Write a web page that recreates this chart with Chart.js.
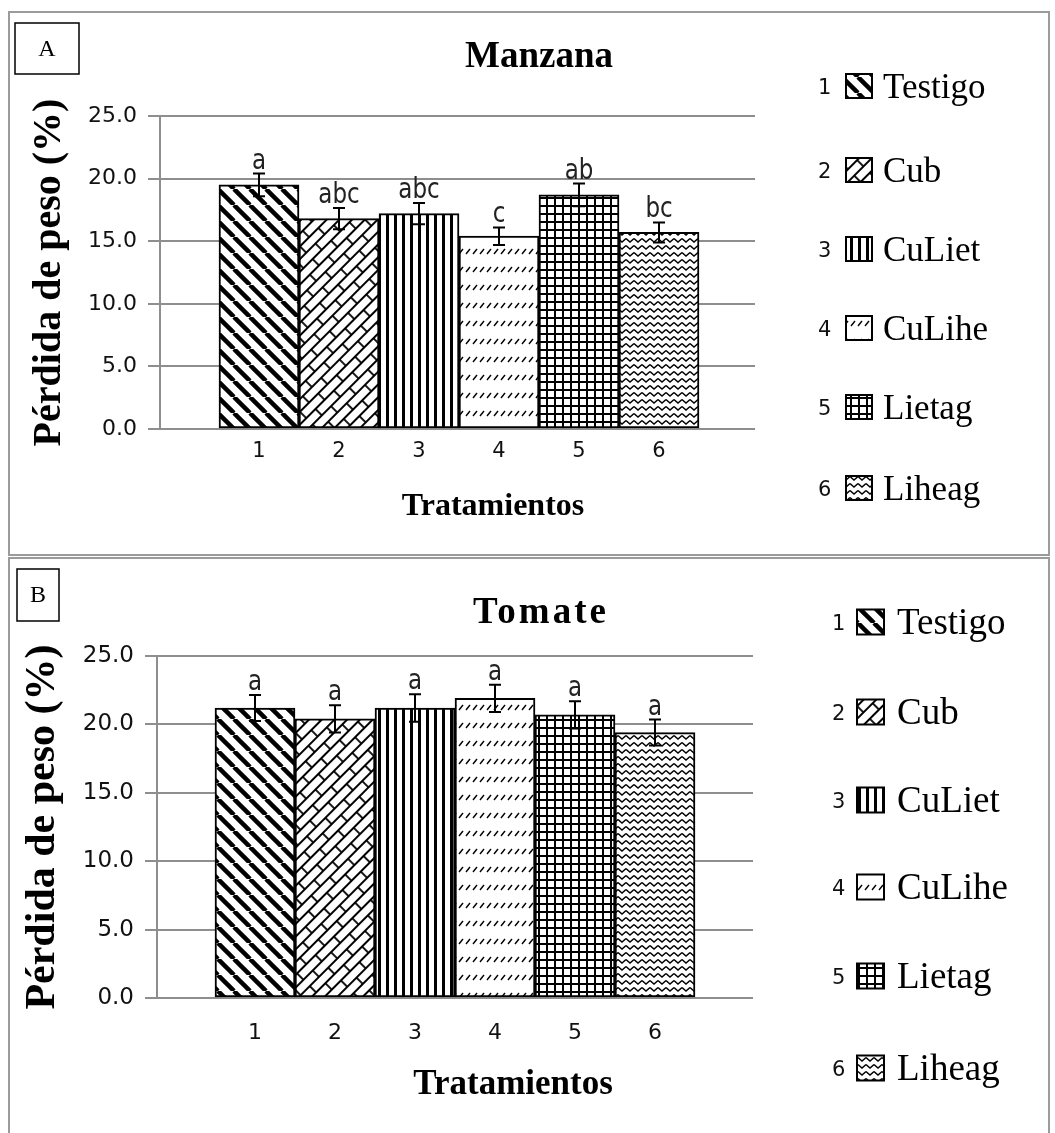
<!DOCTYPE html>
<html>
<head>
<meta charset="utf-8">
<script src="https://cdn.jsdelivr.net/npm/chart.js@4.4.1/dist/chart.umd.min.js"></script>
<style>
  body { margin: 0; background: #fff; width: 1055px; height: 1133px; overflow: hidden; position: relative; }
  .panel { position: absolute; left: 8px; border: 2px solid #9b9b9b; background: #fff; }
  #boxA { top: 11px; width: 1038px; height: 541px; }
  #boxB { top: 557px; width: 1038px; height: 580px; border-bottom: none; }
  canvas { display: block; }
</style>
</head>
<body>
<div class="panel" id="boxA"><canvas id="chartA" width="1038" height="541"></canvas></div>
<div class="panel" id="boxB"><canvas id="chartB" width="1038" height="574"></canvas></div>

<script>
// Data
const treatments = ["1", "2", "3", "4", "5", "6"];
const treatmentNames = ["Testigo", "Cub", "CuLiet", "CuLihe", "Lietag", "Liheag"];

const manzanaLoss = [19.5, 16.8, 17.2, 15.4, 18.7, 15.7];
const manzanaErr = [0.9, 0.85, 0.85, 0.7, 0.9, 0.8];
const manzanaLetters = ["a", "abc", "abc", "c", "ab", "bc"];

const tomateLoss = [21.2, 20.4, 21.2, 21.9, 20.7, 19.4];
const tomateErr = [0.95, 1.0, 1.0, 1.0, 1.0, 0.95];
const tomateLetters = ["a", "a", "a", "a", "a", "a"];

const yMin = 0;
const yMax = 25;
const yStep = 5;

// Small tile canvas for a fill pattern
function makeTile(w, h, draw) {
    let c = document.createElement("canvas");
    c.width = w;
    c.height = h;
    let g = c.getContext("2d");
    g.fillStyle = "#fff";
    g.fillRect(0, 0, w, h);
    g.strokeStyle = "#000";
    g.fillStyle = "#000";
    draw(g, w, h);
    return c;
}

// Black & white hatch patterns, one per treatment
function makePatterns(ctx) {
    // 1: wide downward diagonal
    let p1 = ctx.createPattern(makeTile(16, 16, (g, w, h) => {
        g.lineWidth = 4.5;
        for (let k = -w; k <= w; k += w) {
            g.beginPath();
            g.moveTo(k, 0);
            g.lineTo(k + w, h);
            g.stroke();
        }
    }), "repeat");

    // 2: diagonal brick
    let p2 = ctx.createPattern(makeTile(26, 18, (g, w, h) => {
        g.lineWidth = 1.8;
        g.beginPath();
        g.moveTo(0, 1); g.lineTo(w, 1);
        g.moveTo(0, h / 2 + 1); g.lineTo(w, h / 2 + 1);
        g.moveTo(1, 0); g.lineTo(1, h / 2);
        g.moveTo(w / 2 + 1, h / 2); g.lineTo(w / 2 + 1, h);
        g.stroke();
    }), "repeat");
    p2.setTransform(new DOMMatrix().rotate(-45));

    // 3: vertical lines
    let p3 = ctx.createPattern(makeTile(8, 8, (g, w, h) => {
        g.fillRect(0, 0, 3, h);
    }), "repeat");

    // 4: dashed upward diagonal
    let p4 = ctx.createPattern(makeTile(7, 18, (g, w, h) => {
        g.lineWidth = 1.4;
        g.beginPath();
        g.moveTo(1, 7); g.lineTo(5, 2);
        g.stroke();
    }), "repeat");

    // 5: small grid
    let p5 = ctx.createPattern(makeTile(8, 8, (g, w, h) => {
        g.fillRect(0, 0, w, 2);
        g.fillRect(0, 0, 2, h);
    }), "repeat");

    // 6: zig zag
    let p6 = ctx.createPattern(makeTile(8, 7, (g, w, h) => {
        g.lineWidth = 1.4;
        g.beginPath();
        g.moveTo(0, 1.5); g.lineTo(4, 5); g.lineTo(8, 1.5);
        g.stroke();
    }), "repeat");

    return [p1, p2, p3, p4, p5, p6];
}

// Error bars, letters, titles, letter box and the side legend
function makeDecor(panel, fills) {
    return {
        id: "panelDecor",
        afterDatasetsDraw(chart) {
            let ctx = chart.ctx;
            let y = chart.scales.y;
            let meta = chart.getDatasetMeta(0);
            ctx.save();
            ctx.strokeStyle = "#000";
            ctx.lineWidth = 2;
            meta.data.forEach((bar, i) => {
                let top = y.getPixelForValue(panel.values[i] + panel.errors[i]);
                let bot = y.getPixelForValue(panel.values[i] - panel.errors[i]);
                ctx.beginPath();
                ctx.moveTo(bar.x, top); ctx.lineTo(bar.x, bot);
                ctx.moveTo(bar.x - 6, top); ctx.lineTo(bar.x + 6, top);
                ctx.moveTo(bar.x - 6, bot); ctx.lineTo(bar.x + 6, bot);
                ctx.stroke();

                // significance letters (drawn a bit taller, like the source)
                ctx.save();
                ctx.translate(bar.x, top - 5);
                ctx.scale(1, 1.25);
                ctx.font = '23px "DejaVu Sans"';
                ctx.textAlign = "center";
                ctx.textBaseline = "alphabetic";
                ctx.fillStyle = "#222";
                ctx.fillText(panel.letters[i], 0, 0);
                ctx.restore();
            });
            ctx.restore();
        },
        afterDraw(chart) {
            let ctx = chart.ctx;
            ctx.save();
            ctx.fillStyle = "#000";
            ctx.strokeStyle = "#000";
            ctx.textAlign = "center";
            ctx.textBaseline = "alphabetic";

            // chart title
            ctx.font = "bold " + panel.titleSize + 'px "Liberation Serif"';
            ctx.letterSpacing = panel.titleSpacing;
            ctx.fillText(panel.title, panel.titleX, panel.titleY);
            ctx.letterSpacing = "0px";

            // x axis title
            ctx.font = "bold " + panel.xTitleSize + 'px "Liberation Serif"';
            ctx.fillText("Tratamientos", panel.xTitleX, panel.xTitleY);

            // panel letter box
            ctx.lineWidth = 1.5;
            ctx.strokeRect(panel.box[0], panel.box[1], panel.box[2], panel.box[3]);
            ctx.font = '24px "Liberation Serif"';
            ctx.textBaseline = "middle";
            ctx.fillText(panel.letter, panel.box[0] + panel.box[2] / 2, panel.box[1] + panel.box[3] / 2 + 1);

            // legend
            let lg = panel.legend;
            treatmentNames.forEach((name, i) => {
                let ry = lg.rows[i];
                ctx.textAlign = "left";
                ctx.textBaseline = "alphabetic";
                ctx.font = '21px "DejaVu Sans"';
                ctx.fillStyle = "#111";
                ctx.fillText(treatments[i], lg.numX, ry + 8);

                ctx.fillStyle = fills[i];
                ctx.fillRect(lg.swX, ry - lg.swH / 2, lg.swW, lg.swH);
                ctx.lineWidth = 2;
                ctx.strokeRect(lg.swX, ry - lg.swH / 2, lg.swW, lg.swH);

                ctx.fillStyle = "#000";
                ctx.font = lg.size + 'px "Liberation Serif"';
                ctx.fillText(name, lg.textX, ry + 12);
            });
            ctx.restore();
        }
    };
}

function buildChart(canvasId, panel) {
    let ctx = document.getElementById(canvasId).getContext("2d");
    let fills = makePatterns(ctx);

    return new Chart(ctx, {
        type: "bar",
        data: {
            datasets: [{
                data: panel.values.map((v, i) => ({ x: i + 1, y: v })),
                backgroundColor: fills,
                borderColor: "#000",
                borderWidth: 2,
                borderSkipped: false,
                barPercentage: 1,
                categoryPercentage: 1
            }]
        },
        options: {
            responsive: false,
            animation: false,
            layout: {
                padding: { left: 0, top: panel.areaTop, right: panel.padRight, bottom: 0 }
            },
            plugins: {
                legend: { display: false },
                tooltip: { enabled: false },
                title: { display: false }
            },
            scales: {
                x: {
                    type: "linear",
                    min: panel.xMin,
                    max: panel.xMax,
                    offset: false,
                    grid: { display: false, drawTicks: false },
                    border: { display: false },
                    afterBuildTicks: axis => {
                        axis.ticks = treatments.map((t, i) => ({ value: i + 1 }));
                    },
                    afterFit: axis => { axis.height = panel.xAxisHeight; },
                    ticks: {
                        autoSkip: false,
                        maxRotation: 0,
                        padding: panel.xTickPad,
                        color: "#111",
                        font: { family: "DejaVu Sans", size: panel.xTickSize },
                        callback: v => treatments[v - 1]
                    }
                },
                y: {
                    min: yMin,
                    max: yMax,
                    ticks: {
                        stepSize: yStep,
                        padding: 11,
                        color: "#111",
                        font: { family: "DejaVu Sans", size: panel.tickSize },
                        callback: v => v.toFixed(1)
                    },
                    grid: { color: "#8e8e8e", lineWidth: 2, tickLength: 12 },
                    border: { color: "#8e8e8e", width: 2 },
                    title: {
                        display: true,
                        text: "Pérdida de peso (%)",
                        color: "#000",
                        font: { family: "Liberation Serif", size: panel.yTitleSize, weight: "bold", lineHeight: 1 },
                        padding: { top: panel.yTitlePad, bottom: 0 }
                    },
                    afterFit: axis => { axis.width = panel.areaLeft; }
                }
            }
        },
        plugins: [makeDecor(panel, fills)]
    });
}

buildChart("chartA", {
    values: manzanaLoss,
    errors: manzanaErr,
    letters: manzanaLetters,
    title: "Manzana",
    titleSize: 37,
    titleSpacing: "0px",
    titleX: 529,
    titleY: 54,
    xTitleSize: 32,
    xTitleX: 483,
    xTitleY: 502,
    letter: "A",
    box: [5, 10, 64, 51],
    areaLeft: 150,
    areaTop: 103,
    padRight: 293,
    xAxisHeight: 125,
    xTickPad: 10,
    xTickSize: 21,
    xMin: -0.2375,
    xMax: 7.2,
    tickSize: 22,
    yTitleSize: 40,
    yTitlePad: 20,
    legend: { numX: 808, swX: 836, swW: 26, swH: 24, textX: 873, size: 35, rows: [73, 157, 236, 315, 394, 475] }
});

buildChart("chartB", {
    values: tomateLoss,
    errors: tomateErr,
    letters: tomateLetters,
    title: "Tomate",
    titleSize: 37,
    titleSpacing: "3px",
    titleX: 531,
    titleY: 64,
    xTitleSize: 35,
    xTitleX: 503,
    xTitleY: 535,
    letter: "B",
    box: [7, 10, 42, 52],
    areaLeft: 147,
    areaTop: 97,
    padRight: 295,
    xAxisHeight: 135,
    xTickPad: 22,
    xTickSize: 22,
    xMin: -0.225,
    xMax: 7.225,
    tickSize: 23,
    yTitleSize: 42,
    yTitlePad: 12,
    legend: { numX: 822, swX: 847, swW: 27, swH: 25, textX: 887, size: 37, rows: [63, 153, 241, 328, 417, 509] }
});
</script>
</body>
</html>
